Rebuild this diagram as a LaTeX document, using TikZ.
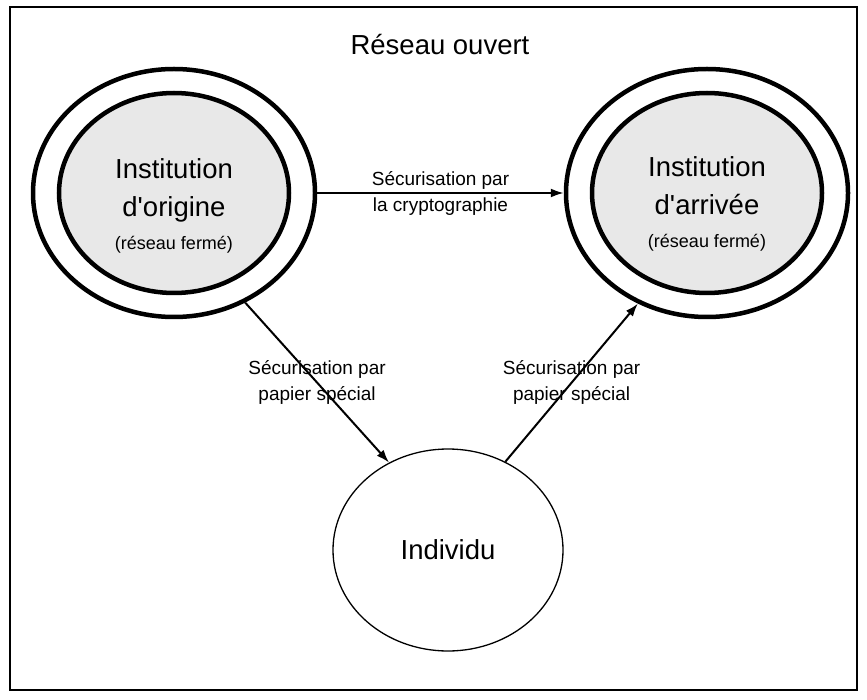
\documentclass[tikz,border=0pt]{standalone}
\usepackage{fontspec}
\setmainfont{Liberation Sans}
\usetikzlibrary{arrows.meta,shapes.geometric}

\begin{document}
\begin{tikzpicture}[x=1pt,y=-1pt]
        \tikzstyle{every node}=[font=\fontsize{27.5}{38}\selectfont]
        \tikzstyle{outerring}=[ellipse,draw,line width=4.5pt,minimum width=282pt,minimum height=248pt,inner sep=0pt]
        \tikzstyle{innerring}=[ellipse,draw,line width=4.5pt,fill=black!9,minimum width=230pt,minimum height=200pt,inner sep=0pt]
        \tikzstyle{lbl}=[align=center,font=\fontsize{19}{26}\selectfont]
        \tikzstyle{arr}=[-{Latex[length=13pt,width=9pt]},line width=2pt]
        \useasboundingbox (0,0) rectangle (867,700);

        %%% Frame
        \node[draw,line width=2.5pt,minimum width=847pt,minimum height=683pt,inner sep=0pt] (frame) at (433.5,348.5) {};
        \node (title) at (440,45) {R\'eseau ouvert};

        %%% Institutions
        \node[outerring] (lo) at (174,193) {};
        \node[innerring] (li) at (174,193) {};
        \node[align=center] (ltxt) at (174,206) {Institution\\d\textquotesingle origine\\[-5pt]{\fontsize{18}{22}\selectfont (r\'eseau ferm\'e)}};

        \node[outerring] (ro) at (707,193) {};
        \node[innerring] (ri) at (707,193) {};
        \node[align=center] (rtxt) at (707,204) {Institution\\d\textquotesingle arriv\'ee\\[-5pt]{\fontsize{18}{22}\selectfont (r\'eseau ferm\'e)}};

        %%% Individu
        \node[ellipse,draw,line width=1.3pt,minimum width=230pt,minimum height=202pt,inner sep=0pt] (ind) at (448,550) {Individu};

        \draw[arr] (lo.east) -- node[lbl] {S\'ecurisation par\\la cryptographie} (ro.west);
        \draw[arr] (lo.-57) -- node[lbl] {S\'ecurisation par\\papier sp\'ecial} (ind.124);
        \draw[arr] (ind.57) -- node[lbl] {S\'ecurisation par\\papier sp\'ecial} (ro.-122);
\end{tikzpicture}
\end{document}
